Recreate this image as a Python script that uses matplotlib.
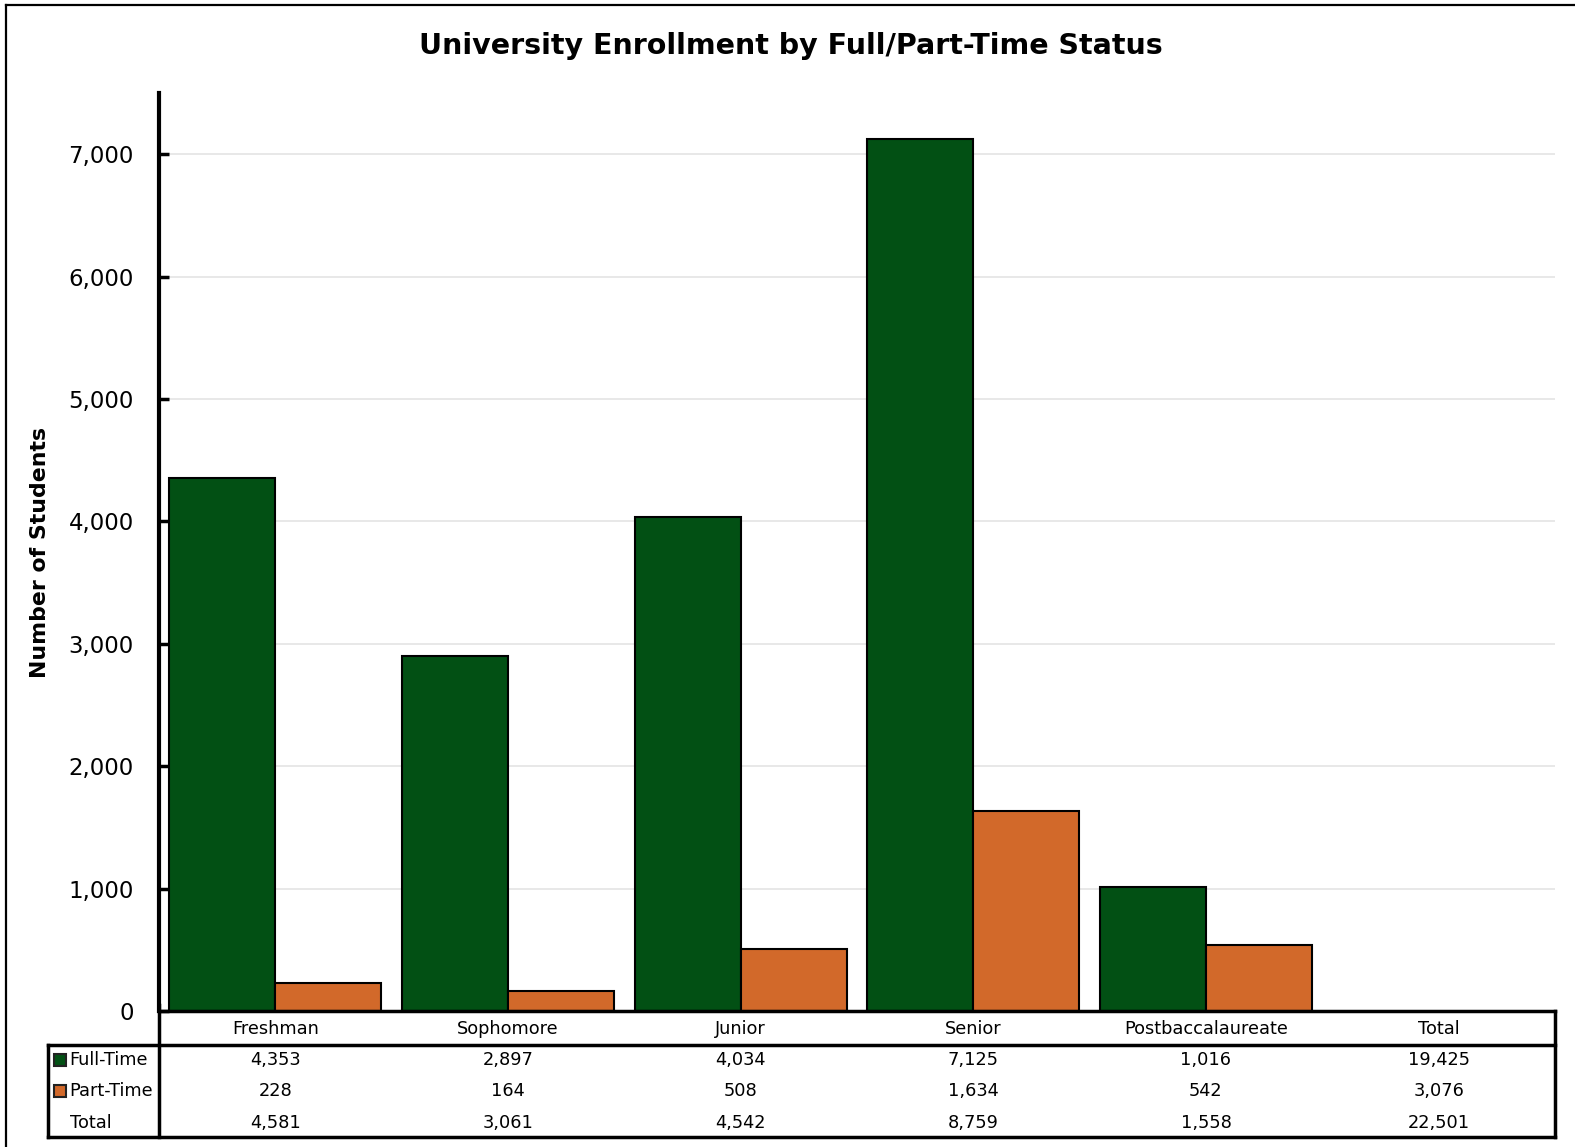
import matplotlib
matplotlib.use("Agg")
import matplotlib.pyplot as plt
import numpy as np
from matplotlib.lines import Line2D
from matplotlib.patches import Rectangle
from matplotlib.transforms import blended_transform_factory

categories = ["Freshman", "Sophomore", "Junior", "Senior", "Postbaccalaureate"]
full_time = [4353, 2897, 4034, 7125, 1016]
part_time = [228, 164, 508, 1634, 542]
series_names = ["Full-Time", "Part-Time"]
y_ticks = [0, 1000, 2000, 3000, 4000, 5000, 6000, 7000]

GREEN = "#025014"
ORANGE = "#D2692A"
W, H = 1575, 1147


def fx(px):
    return px / W


def fy(py):
    return 1 - py / H


def fmt(v):
    return f"{v:,}"


plt.rcParams["font.family"] = ["DejaVu Sans"]

fig = plt.figure(figsize=(W / 100, H / 100), dpi=100)
ax = fig.add_axes([fx(159), fy(1011), fx(1555) - fx(159), fy(93) - fy(1011)])

x = np.arange(len(categories))
bw = 0.455
ax.bar(x - bw, full_time, width=bw, align="edge", color=GREEN,
       edgecolor="black", linewidth=1.5, zorder=3)
ax.bar(x, part_time, width=bw, align="edge", color=ORANGE,
       edgecolor="black", linewidth=1.5, zorder=3)

ax.set_xlim(-0.5, len(categories) + 0.5)
ax.set_ylim(0, 7500)
ax.set_yticks(y_ticks, labels=[fmt(t) for t in y_ticks])
ax.set_xticks([])
for t in y_ticks[1:]:
    ax.axhline(t, color="#e4e4e4", linewidth=1.2, zorder=1)

for s in ["top", "right", "bottom"]:
    ax.spines[s].set_visible(False)
ax.spines["left"].set_linewidth(3)
ax.tick_params(axis="y", direction="in", length=7, width=2.5, pad=18,
               labelsize=16.5, colors="black")

fig.text(fx(791), fy(46), "University Enrollment by Full/Part-Time Status",
         ha="center", va="center", fontsize=20.5, fontweight="bold")
fig.text(fx(40), fy(553), "Number of Students", rotation=90,
         ha="center", va="center", fontsize=15.8, fontweight="bold")

# data table under the axis
all_cols = categories + ["Total"]
rows = {
    "Full-Time": full_time + [sum(full_time)],
    "Part-Time": part_time + [sum(part_time)],
    "Total": [a + b for a, b in zip(full_time, part_time)] + [sum(full_time) + sum(part_time)],
}
tr = blended_transform_factory(ax.transData, fig.transFigure)
for i, c in enumerate(all_cols):
    fig.text(i, fy(1029), c, transform=tr, ha="center", va="center", fontsize=12.8)
row_y = [1060, 1091, 1123]
for (name, vals), py in zip(rows.items(), row_y):
    for i, v in enumerate(vals):
        fig.text(i, fy(py), fmt(v), transform=tr, ha="center", va="center", fontsize=12.8)

# row labels with legend keys
for name, col, py in zip(series_names, [GREEN, ORANGE], row_y[:2]):
    fig.add_artist(Rectangle((fx(54), fy(py + 6)), fx(12), fy(0) - fy(12),
                             facecolor=col, edgecolor="#222222", linewidth=1.5,
                             transform=fig.transFigure))
    fig.text(fx(69), fy(py), name, ha="left", va="center", fontsize=12.8)
fig.text(fx(91), fy(row_y[2]), "Total", ha="center", va="center", fontsize=12.8)

lw = 2.5
table_lines = [
    ((159, 1555), (1011, 1011)),
    ((48, 1555), (1045, 1045)),
    ((48, 1555), (1137, 1137)),
    ((48, 48), (1045, 1137)),
    ((159, 159), (1005, 1137)),
    ((1555, 1555), (1011, 1137)),
]
for xs, ys in table_lines:
    fig.add_artist(Line2D([fx(xs[0]), fx(xs[1])], [fy(ys[0]), fy(ys[1])],
                          color="black", linewidth=lw, transform=fig.transFigure,
                          solid_capstyle="projecting"))

# outer frame (cropped at right and bottom in the reference)
fig.add_artist(Line2D([fx(6), fx(6)], [fy(5), fy(1147)], color="black",
                      linewidth=1.6, transform=fig.transFigure))
fig.add_artist(Line2D([fx(6), fx(1575)], [fy(5), fy(5)], color="black",
                      linewidth=1.6, transform=fig.transFigure))

fig.savefig("out.png", dpi=100)
